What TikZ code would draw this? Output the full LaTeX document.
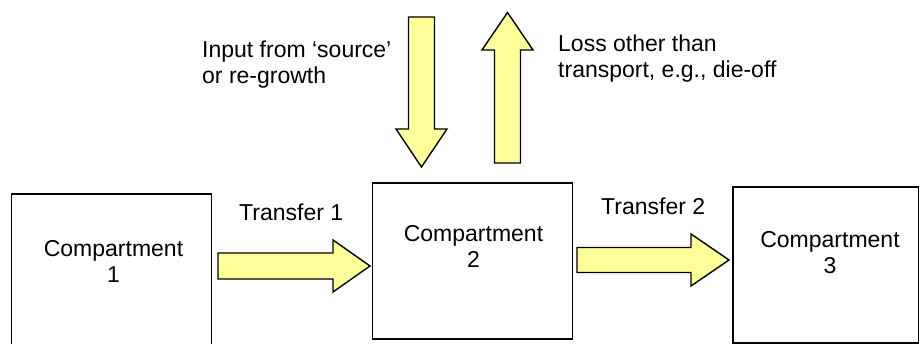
\documentclass[tikz,border=0pt]{standalone}
\usepackage{fontspec}
\setmainfont{Liberation Sans}
\begin{document}
\begin{tikzpicture}[x=1pt,y=-1pt,
  compbox/.style={draw=black,line width=1.6pt,inner sep=0pt},
  lbl/.style={inner sep=0pt,anchor=base west,font=\fontsize{23}{26.5}\selectfont},
  boxtext/.style={inner sep=0pt,align=center,font=\fontsize{23}{26.5}\selectfont},
  fatarrow/.style={draw=black,line width=1.4pt,fill=flowyellow,line join=miter}]
\definecolor{flowyellow}{HTML}{FFFF99}
\useasboundingbox (0,0) rectangle (919,344);

% compartments
\node[compbox,minimum width=200pt,minimum height=152pt] (c1) at (111.5,270) {};
\node[compbox,minimum width=200pt,minimum height=156pt] (c2) at (472.5,261) {};
\node[compbox,minimum width=186pt,minimum height=156pt] (c3) at (826,265) {};

% compartment names (anchored at the baseline of the second line)
\node[boxtext,anchor=base] (t1) at (113.5,283) {Compartment\\1};
\node[boxtext,anchor=base] (t2) at (473.5,268) {Compartment\\2};
\node[boxtext,anchor=base] (t3) at (830,274) {Compartment\\3};

% transfer arrows between compartments
\draw[fatarrow] (218,253) -- (333,253) -- (333,240) -- (370,266)
  -- (333,292) -- (333,279) -- (218,279) -- cycle;
\draw[fatarrow] (577,247.5) -- (691,247.5) -- (691,234) -- (729,260)
  -- (691,286) -- (691,272.5) -- (577,272.5) -- cycle;

% input and loss arrows of compartment 2
\draw[fatarrow] (408.5,17) -- (434.5,17) -- (434.5,129) -- (447,129)
  -- (421.5,167) -- (396,129) -- (408.5,129) -- cycle;
\draw[fatarrow] (494.5,163) -- (520.5,163) -- (520.5,50) -- (533,50)
  -- (507.5,12.5) -- (482,50) -- (494.5,50) -- cycle;

% labels
\node[lbl] (lt1) at (239,221) {Transfer 1};
\node[lbl] (lt2) at (601,215) {Transfer 2};
\node[lbl,align=left] (lin) at (202,84) {Input from ‘source’\\or re-growth};
\node[lbl,align=left] (lloss) at (558,78) {Loss other than\\transport, e.g., die-off};
\end{tikzpicture}
\end{document}
